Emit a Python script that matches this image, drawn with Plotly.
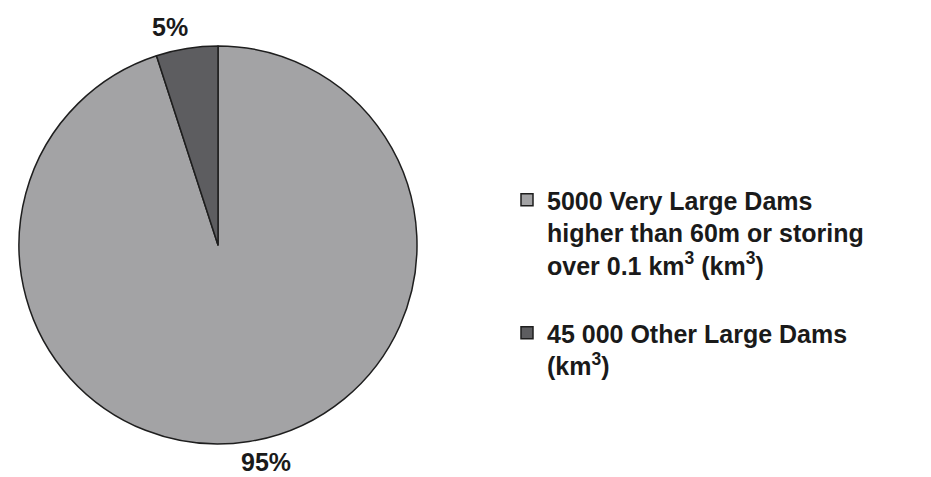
import plotly.graph_objects as go

labels = ["5000 Very Large Dams<br>higher than 60m or storing<br>over 0.1 km<sup>3</sup> (km<sup>3</sup>)<br><span style='font-size:12px'> </span>",
          "45 000 Other Large Dams<br>(km<sup>3</sup>)"]
values = [95, 5]
colors = ["#a3a3a5", "#5d5d60"]

W, H = 931, 477
cx, cy, r = 218, 245, 199

fig = go.Figure()
fig.add_trace(go.Pie(
    labels=labels, values=values, sort=False, direction="clockwise", rotation=0,
    marker=dict(colors=colors, line=dict(color="#1e1e1e", width=1.5)),
    textinfo="none", hoverinfo="label+percent",
    domain=dict(x=[(cx - r) / W, (cx + r) / W], y=[(H - cy - r) / H, (H - cy + r) / H]),
))

font = dict(family="Liberation Sans, Arial, sans-serif", size=25, color="#1a1a1a", weight="bold")
total = sum(values)
pos = [(266, 462), (170, 27)]
for v, (px, py) in zip(values, pos):
    fig.add_annotation(x=px / W, y=1 - py / H, xref="paper", yref="paper",
                       text=f"{round(100 * v / total)}%", showarrow=False, font=font,
                       xanchor="center", yanchor="middle")

fig.update_layout(
    width=W, height=H, margin=dict(l=0, r=0, t=0, b=0),
    paper_bgcolor="white", plot_bgcolor="white",
    legend=dict(x=507 / W, y=1 - 177 / H, xanchor="left", yanchor="top", valign="top",
                font=dict(family="Liberation Sans, Arial, sans-serif", size=25, color="#1a1a1a", weight="bold"),
                itemwidth=30),
    showlegend=True,
)
fig.write_html("out.html")
